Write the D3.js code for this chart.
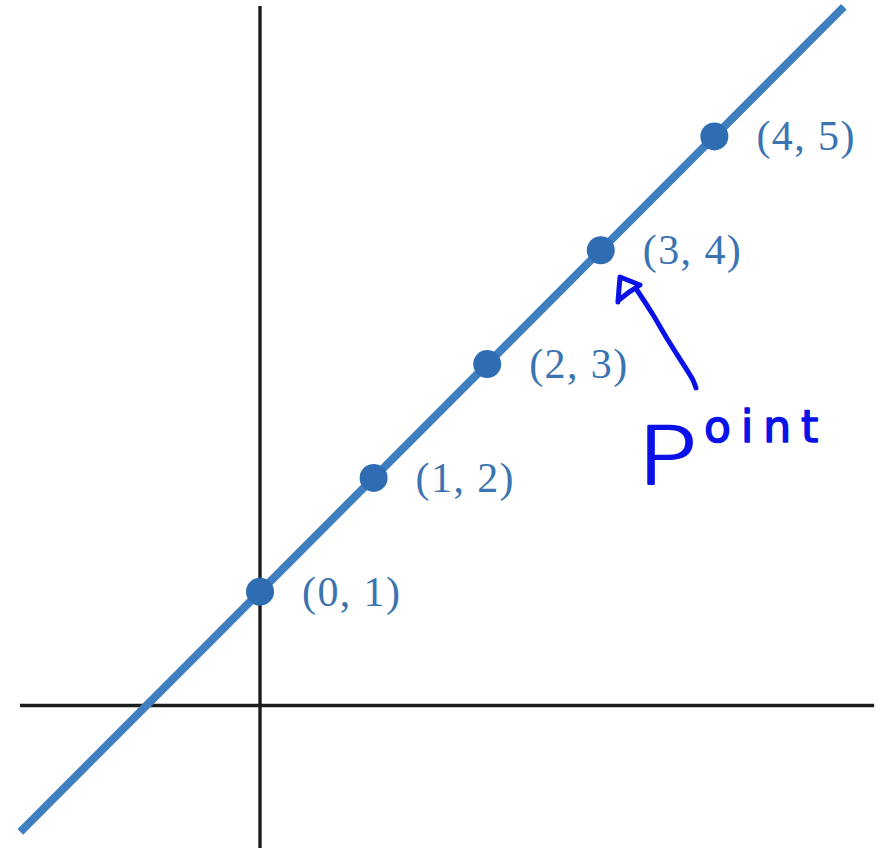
<!DOCTYPE html>
<html>
<head>
<meta charset="utf-8">
<script src="https://cdn.jsdelivr.net/npm/d3@7"></script>
<style>
  html, body { margin: 0; padding: 0; background: #ffffff; }
  svg { display: block; }
</style>
</head>
<body>
<svg id="chart" width="883" height="848"></svg>
<script>
// ---- data ----
const pointX = [0, 1, 2, 3, 4];
const pointY = [1, 2, 3, 4, 5];
const pointLabels = ["(0, 1)", "(1, 2)", "(2, 3)", "(3, 4)", "(4, 5)"];
const lineStart = [-2.11, -1.11];   // y = x + 1
const lineEnd = [5.14, 6.14];
const xDomain = [-2.113, 5.414];
const yDomain = [-1.252, 6.199];
const annotationText = "Point";
// hand-drawn arrow in data coordinates
const arrowShaftX = [3.838, 3.811, 3.741, 3.591, 3.450, 3.318];
const arrowShaftY = [2.790, 2.860, 2.975, 3.212, 3.449, 3.651];
const arrowHeadX = [3.151, 3.169, 3.345, 3.239, 3.160];
const arrowHeadY = [3.546, 3.765, 3.695, 3.625, 3.563];

// ---- layout ----
const W = 883, H = 848;
const svg = d3.select("#chart");
const x = d3.scaleLinear().domain(xDomain).range([20, 875]);
const y = d3.scaleLinear().domain(yDomain).range([H, 0]);

const lineBlue = "#3f7fbf";
const dotBlue = "#2f6db3";
const labelBlue = "#3b74b0";
const inkBlue = "#0a12e8";

// axes
svg.append("line")
  .attr("x1", x(xDomain[0])).attr("x2", x(5.406))
  .attr("y1", y(0)).attr("y2", y(0))
  .attr("stroke", "#1c1c1c").attr("stroke-width", 3.4);
svg.append("line")
  .attr("x1", x(0)).attr("x2", x(0))
  .attr("y1", y(6.147)).attr("y2", y(yDomain[0]))
  .attr("stroke", "#1c1c1c").attr("stroke-width", 3.4);

// main line
svg.append("path")
  .datum([lineStart, lineEnd])
  .attr("d", d3.line().x(d => x(d[0])).y(d => y(d[1])))
  .attr("stroke", lineBlue).attr("stroke-width", 8).attr("fill", "none");

// points
const pts = pointX.map((v, i) => ({ x: v, y: pointY[i], label: pointLabels[i] }));
svg.selectAll("circle.pt").data(pts).enter().append("circle")
  .attr("class", "pt")
  .attr("cx", d => x(d.x)).attr("cy", d => y(d.y))
  .attr("r", 14).attr("fill", dotBlue);

svg.selectAll("text.lbl").data(pts).enter().append("text")
  .attr("class", "lbl")
  .attr("x", d => x(d.x) + 42).attr("y", d => y(d.y) + 14)
  .attr("font-family", "'Liberation Serif', 'DejaVu Serif', serif")
  .attr("font-size", 42)
  .attr("fill", labelBlue)
  .attr("textLength", 98)
  .attr("lengthAdjust", "spacing")
  .text(d => d.label);

// hand-drawn annotation
const curve = d3.line().x(d => x(d[0])).y(d => y(d[1])).curve(d3.curveCatmullRom);
svg.append("path")
  .datum(arrowShaftX.map((v, i) => [v, arrowShaftY[i]]))
  .attr("d", curve)
  .attr("stroke", inkBlue).attr("stroke-width", 5).attr("fill", "none")
  .attr("stroke-linecap", "round").attr("stroke-linejoin", "round");
svg.append("path")
  .datum(arrowHeadX.map((v, i) => [v, arrowHeadY[i]]))
  .attr("d", d3.line().x(d => x(d[0])).y(d => y(d[1])))
  .attr("stroke", inkBlue).attr("stroke-width", 5).attr("fill", "none")
  .attr("stroke-linecap", "round").attr("stroke-linejoin", "round");

const t = svg.append("text")
  .attr("x", 636).attr("y", 442)
  .attr("font-family", "'DejaVu Sans', sans-serif")
  .attr("fill", inkBlue).attr("stroke", inkBlue)
  .attr("stroke-linejoin", "round");
t.append("tspan").attr("font-size", 80).attr("dy", 42)
  .attr("font-weight", 300).attr("stroke-width", 2)
  .attr("textLength", 62).attr("lengthAdjust", "spacingAndGlyphs")
  .text(annotationText.slice(0, 1));
t.append("tspan").attr("font-size", 44).attr("x", 704).attr("dy", -42)
  .attr("stroke-width", 1.5)
  .attr("letter-spacing", 10)
  .text(annotationText.slice(1));
</script>
</body>
</html>
